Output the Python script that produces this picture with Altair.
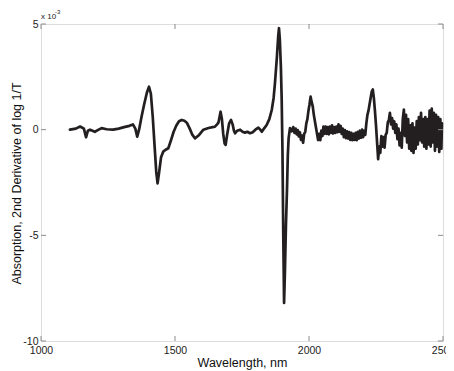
import altair as alt
import pandas as pd

# ---- data (wavelength in nm, 2nd derivative of log 1/T in units of 1e-3) ----
wl_smooth = [1108, 1130, 1146, 1160, 1168, 1175, 1183, 1192, 1201, 1215, 1226, 1245, 1269, 1290,
             1310, 1330, 1343, 1352, 1359, 1366, 1375, 1385, 1395, 1403, 1410, 1417, 1424, 1430,
             1435, 1441, 1448, 1456, 1465, 1475, 1485, 1495, 1505, 1515, 1525, 1535, 1544, 1555,
             1565, 1575, 1590, 1606, 1625, 1640, 1649, 1657, 1662, 1667, 1670, 1675, 1680, 1685,
             1689, 1695, 1702, 1709, 1715, 1720, 1724, 1732, 1743, 1752, 1761, 1770, 1780, 1790,
             1800, 1811, 1818, 1824, 1832, 1842, 1852]
val_smooth = [0.00, 0.05, 0.15, 0.05, -0.36, -0.05, 0.00, -0.05, -0.10, 0.00, 0.07, 0.02, 0.00, 0.05,
              0.12, 0.18, 0.25, 0.05, -0.33, 0.00, 0.60, 1.20, 1.75, 2.03, 1.70, 0.60, -0.80, -2.00,
              -2.54, -2.00, -1.30, -1.04, -0.95, -0.88, -0.50, -0.10, 0.20, 0.40, 0.46, 0.42, 0.33, 0.05,
              -0.25, -0.41, -0.25, 0.00, 0.08, 0.12, 0.14, 0.25, 0.33, 0.65, 0.85, 0.50, -0.20, -0.65,
              -0.72, -0.20, 0.30, 0.46, 0.25, -0.05, -0.17, -0.05, 0.00, -0.10, -0.14, -0.10, -0.17, -0.12,
              0.00, 0.10, 0.00, -0.10, 0.05, 0.22, 0.50]

wl_peak = [1861, 1868, 1873, 1880, 1885, 1888, 1891, 1895, 1898, 1901, 1904, 1907, 1910, 1914,
           1918, 1921, 1924]
val_peak = [0.93, 1.50, 2.20, 3.40, 4.40, 4.80, 4.30, 3.00, 1.50, -1.00, -5.00, -8.20, -6.80, -4.50,
            -2.80, -1.20, -0.40]

wl_noisy = [1929, 1935, 1941, 1946, 1950, 1954, 1958, 1962, 1966, 1970, 1974, 1978, 1982, 1986,
            1990, 1994, 1998, 2002, 2006, 2010, 2014, 2018, 2022, 2026, 2030, 2034, 2038, 2042,
            2046, 2050, 2054, 2058, 2062, 2066, 2070, 2074, 2078, 2082, 2086, 2090, 2094, 2098,
            2102, 2106, 2110, 2114, 2118, 2122, 2126, 2130, 2134, 2138, 2142, 2146, 2150, 2154,
            2158, 2162, 2166, 2170, 2174, 2178, 2182, 2186, 2190, 2194, 2198, 2202, 2206, 2210,
            2214, 2218, 2222, 2226, 2230, 2234, 2238, 2242, 2246, 2250, 2254, 2258, 2262, 2266,
            2270, 2274, 2278, 2282, 2286, 2290, 2294, 2298, 2302, 2306, 2310, 2314, 2318, 2322,
            2326, 2330, 2334, 2338, 2342, 2346, 2350, 2354, 2358, 2362, 2366, 2370, 2374, 2378,
            2382, 2386, 2390, 2394, 2398, 2402, 2406, 2410, 2414, 2418, 2422, 2426, 2430, 2434,
            2438, 2442, 2446, 2450, 2454, 2458, 2462, 2466, 2470, 2474, 2478, 2482, 2486, 2490,
            2494, 2496]
val_noisy = [0.07, -0.08, 0.12, -0.15, 0.05, -0.22, -0.02, -0.32, -0.12, -0.48, -0.28, -0.62, -0.20, -0.10,
             0.30, 0.50, 0.90, 1.20, 1.56, 1.30, 1.10, 0.70, 0.40, 0.10, -0.20, -0.49, -0.20, -0.50,
             -0.05, -0.30, 0.15, -0.20, 0.15, -0.20, 0.12, -0.22, 0.15, -0.15, 0.20, -0.18, 0.12, -0.15,
             0.15, -0.12, 0.25, -0.10, 0.18, -0.20, 0.05, -0.35, -0.02, -0.40, -0.08, -0.42, -0.12, -0.48,
             -0.15, -0.50, -0.20, -0.48, -0.15, -0.50, -0.10, -0.42, -0.05, -0.38, 0.00, -0.35, -0.05, -0.25,
             0.30, 0.70, 0.90, 1.20, 1.50, 1.80, 1.90, 1.50, 0.90, 0.20, -0.60, -1.40, -0.80, -1.10,
             -0.30, -0.80, -0.35, -0.85, -0.25, -0.15, 0.35, 0.45, 0.80, 0.25, 0.55, 0.05, 0.40, -0.15,
             0.25, -0.45, 0.05, -0.75, -0.15, -0.85, 0.50, 0.95, -0.30, 0.70, -0.60, 0.50, -0.90, 0.20,
             -1.00, 0.30, -1.10, 0.10, -0.90, 0.40, -0.70, 0.60, -0.50, 0.80, -0.60, 0.50, -0.80, 0.60,
             -0.90, 0.50, -0.70, 0.90, -0.80, 1.00, -0.60, 0.80, -1.00, 0.70, -0.80, 0.60, -1.05, 0.50,
             -0.90, 0.30]

x_ticks = [1000, 1500, 2000, 2500]
y_ticks = [-10, -5, 0, 5]

df = pd.DataFrame({
    "wl": wl_smooth + wl_peak + wl_noisy,
    "v": val_smooth + val_peak + val_noisy,
})

W, H = 402, 317
frame = "#8c8c8c"
font = "Liberation Sans"

xscale = alt.Scale(domain=[1000, 2500], nice=False)
yscale = alt.Scale(domain=[-10, 5], nice=False)

line = alt.Chart(df).mark_line(
    color="#231f20", strokeWidth=2.7, strokeJoin="round", strokeCap="round"
).encode(
    x=alt.X("wl:Q", scale=xscale, title="Wavelength, nm",
            axis=alt.Axis(values=x_ticks, format="d", tickSize=0, domain=False, grid=False,
                          labelFlush=False, labelFontSize=10.5, labelFont=font, labelColor="#222",
                          labelPadding=4, titleFont=font, titleFontSize=12.5,
                          titleFontWeight="normal", titleColor="#111",
                          titleBaseline="middle", titleY=21)),
    y=alt.Y("v:Q", scale=yscale, title="Absorption, 2nd Derivative of log 1/T",
            axis=alt.Axis(values=y_ticks, labelExpr="'' + datum.value", tickSize=0, domain=False,
                          grid=False, labelFontSize=10.5, labelFont=font, labelColor="#222",
                          labelPadding=3, titleFont=font, titleFontSize=12.5,
                          titleFontWeight="normal", titleColor="#111",
                          titleAngle=-90, titleBaseline="middle", titleAlign="center",
                          titleX=-25, titleY=159)),
)

xt = pd.DataFrame({"t": x_ticks})
yt = pd.DataFrame({"t": y_ticks})

xtick_bottom = alt.Chart(xt).mark_rule(color=frame, strokeWidth=1).encode(
    x=alt.X("t:Q", scale=xscale), y=alt.value(H), y2=alt.value(H - 5))
xtick_top = alt.Chart(xt).mark_rule(color=frame, strokeWidth=1).encode(
    x=alt.X("t:Q", scale=xscale), y=alt.value(0), y2=alt.value(5))
ytick_left = alt.Chart(yt).mark_rule(color=frame, strokeWidth=1).encode(
    y=alt.Y("t:Q", scale=yscale), x=alt.value(0), x2=alt.value(5))
ytick_right = alt.Chart(yt).mark_rule(color=frame, strokeWidth=1).encode(
    y=alt.Y("t:Q", scale=yscale), x=alt.value(W), x2=alt.value(W - 5))

exp_main = alt.Chart(pd.DataFrame({"s": ["x 10"]})).mark_text(
    font=font, fontSize=8, align="left", baseline="middle", color="#222"
).encode(text="s:N", x=alt.value(0), y=alt.value(-7))
exp_sup = alt.Chart(pd.DataFrame({"s": ["-3"]})).mark_text(
    font=font, fontSize=6, align="left", baseline="middle", color="#222"
).encode(text="s:N", x=alt.value(14), y=alt.value(-12))

chart = alt.layer(
    line, xtick_bottom, xtick_top, ytick_left, ytick_right, exp_main, exp_sup
).properties(
    width=W, height=H,
    autosize=alt.AutoSizeParams(type="none"),
    padding={"left": 33, "top": 16, "right": 3, "bottom": 30},
).configure_view(
    stroke=frame, strokeWidth=1
).configure(background="white")

chart.save("out.html", embed_options={"renderer": "svg", "actions": False})
